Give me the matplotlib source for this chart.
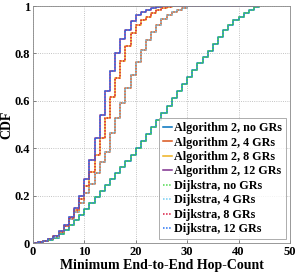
import numpy as np
import matplotlib.pyplot as plt

plt.rcParams['font.family'] = ['Liberation Serif', 'DejaVu Serif']
plt.rcParams['font.weight'] = 'bold'
plt.rcParams['axes.labelweight'] = 'bold'

# hop counts 0..44
hops = list(range(0, 45))

# CDF values (F at each hop count)
cdf_12gr = [0, 0.003, 0.008, 0.015, 0.03, 0.05, 0.076, 0.11, 0.146, 0.20,
            0.27, 0.35, 0.444, 0.54, 0.64, 0.727, 0.80, 0.86, 0.90, 0.935,
            0.96, 0.975, 0.985, 0.993, 0.997, 1, 1, 1, 1, 1,
            1, 1, 1, 1, 1, 1, 1, 1, 1, 1,
            1, 1, 1, 1, 1]
cdf_8gr = [0, 0.003, 0.008, 0.015, 0.028, 0.048, 0.073, 0.105, 0.14, 0.185,
           0.24, 0.30, 0.37, 0.444, 0.526, 0.617, 0.695, 0.77, 0.83, 0.886,
           0.92, 0.94, 0.955, 0.97, 0.983, 0.99, 0.995, 0.998, 1, 1,
           1, 1, 1, 1, 1, 1, 1, 1, 1, 1,
           1, 1, 1, 1, 1]
cdf_4gr = [0, 0.003, 0.008, 0.015, 0.027, 0.045, 0.07, 0.10, 0.13, 0.17,
           0.21, 0.25, 0.295, 0.34, 0.385, 0.463, 0.526, 0.59, 0.653, 0.71,
           0.765, 0.815, 0.857, 0.89, 0.92, 0.945, 0.96, 0.975, 0.985, 0.993,
           1, 1, 1, 1, 1, 1, 1, 1, 1, 1,
           1, 1, 1, 1, 1]
cdf_0gr = [0, 0.003, 0.007, 0.013, 0.022, 0.038, 0.055, 0.075, 0.097, 0.12,
           0.145, 0.17, 0.195, 0.22, 0.245, 0.27, 0.295, 0.32, 0.345, 0.37,
           0.40, 0.43, 0.46, 0.49, 0.52, 0.55, 0.58, 0.61, 0.64, 0.67,
           0.70, 0.73, 0.76, 0.785, 0.81, 0.84, 0.87, 0.90, 0.92, 0.94,
           0.955, 0.972, 0.983, 0.995, 1]

labels = ['Algorithm 2, no GRs', 'Algorithm 2, 4 GRs', 'Algorithm 2, 8 GRs',
          'Algorithm 2, 12 GRs', 'Dijkstra, no GRs', 'Dijkstra, 4 GRs',
          'Dijkstra, 8 GRs', 'Dijkstra, 12 GRs']
series = [cdf_0gr, cdf_4gr, cdf_8gr, cdf_12gr, cdf_0gr, cdf_4gr, cdf_8gr, cdf_12gr]
colors = [(0, 0.447, 0.741), (0.85, 0.325, 0.098), (0.929, 0.694, 0.125),
          (0.494, 0.184, 0.556), (0.30, 0.85, 0.30), (0.45, 0.80, 0.95),
          (0.85, 0.10, 0.25), (0.15, 0.45, 0.95)]
styles = ['-', '-', '-', '-', (0, (1, 1)), (0, (1, 1)), (0, (1, 1)), (0, (1, 1))]

fig = plt.figure(figsize=(2.99, 2.77), dpi=100)
ax = fig.add_axes([0.110, 0.1227, 0.860, 0.8556])

for y, c, ls, lab in zip(series, colors, styles, labels):
    ax.step(hops, y, where='post', color=c, linestyle=ls, lw=1.1, label=lab)

ax.set_xlim(0, 50)
ax.set_ylim(0, 1)
ax.set_xticks([0, 10, 20, 30, 40, 50])
ax.set_yticks([0, 0.2, 0.4, 0.6, 0.8, 1])
ax.set_yticklabels(['0', '0.2', '0.4', '0.6', '0.8', '1'])
for t in ax.get_xticklabels() + ax.get_yticklabels():
    t.set_fontweight('bold')
ax.grid(True, linestyle=':', color='#b0b0b0', lw=0.6)
ax.tick_params(direction='in', length=2, width=0.5, labelsize=9, color='#555555', pad=2)
for s in ax.spines.values():
    s.set_color('#888888')
    s.set_linewidth(0.6)
ax.set_xlabel('Minimum End-to-End Hop-Count', fontsize=10, labelpad=1)
ax.set_ylabel('CDF', fontsize=10, labelpad=1)

leg = ax.legend(loc='lower right', fontsize=8.7, handlelength=0.7, handletextpad=0.2,
                borderpad=0.35, labelspacing=0.2, borderaxespad=0.3,
                frameon=True, fancybox=False)
leg.get_frame().set_edgecolor('#888888')
leg.get_frame().set_linewidth(0.6)

fig.savefig('out.png', dpi=100)
